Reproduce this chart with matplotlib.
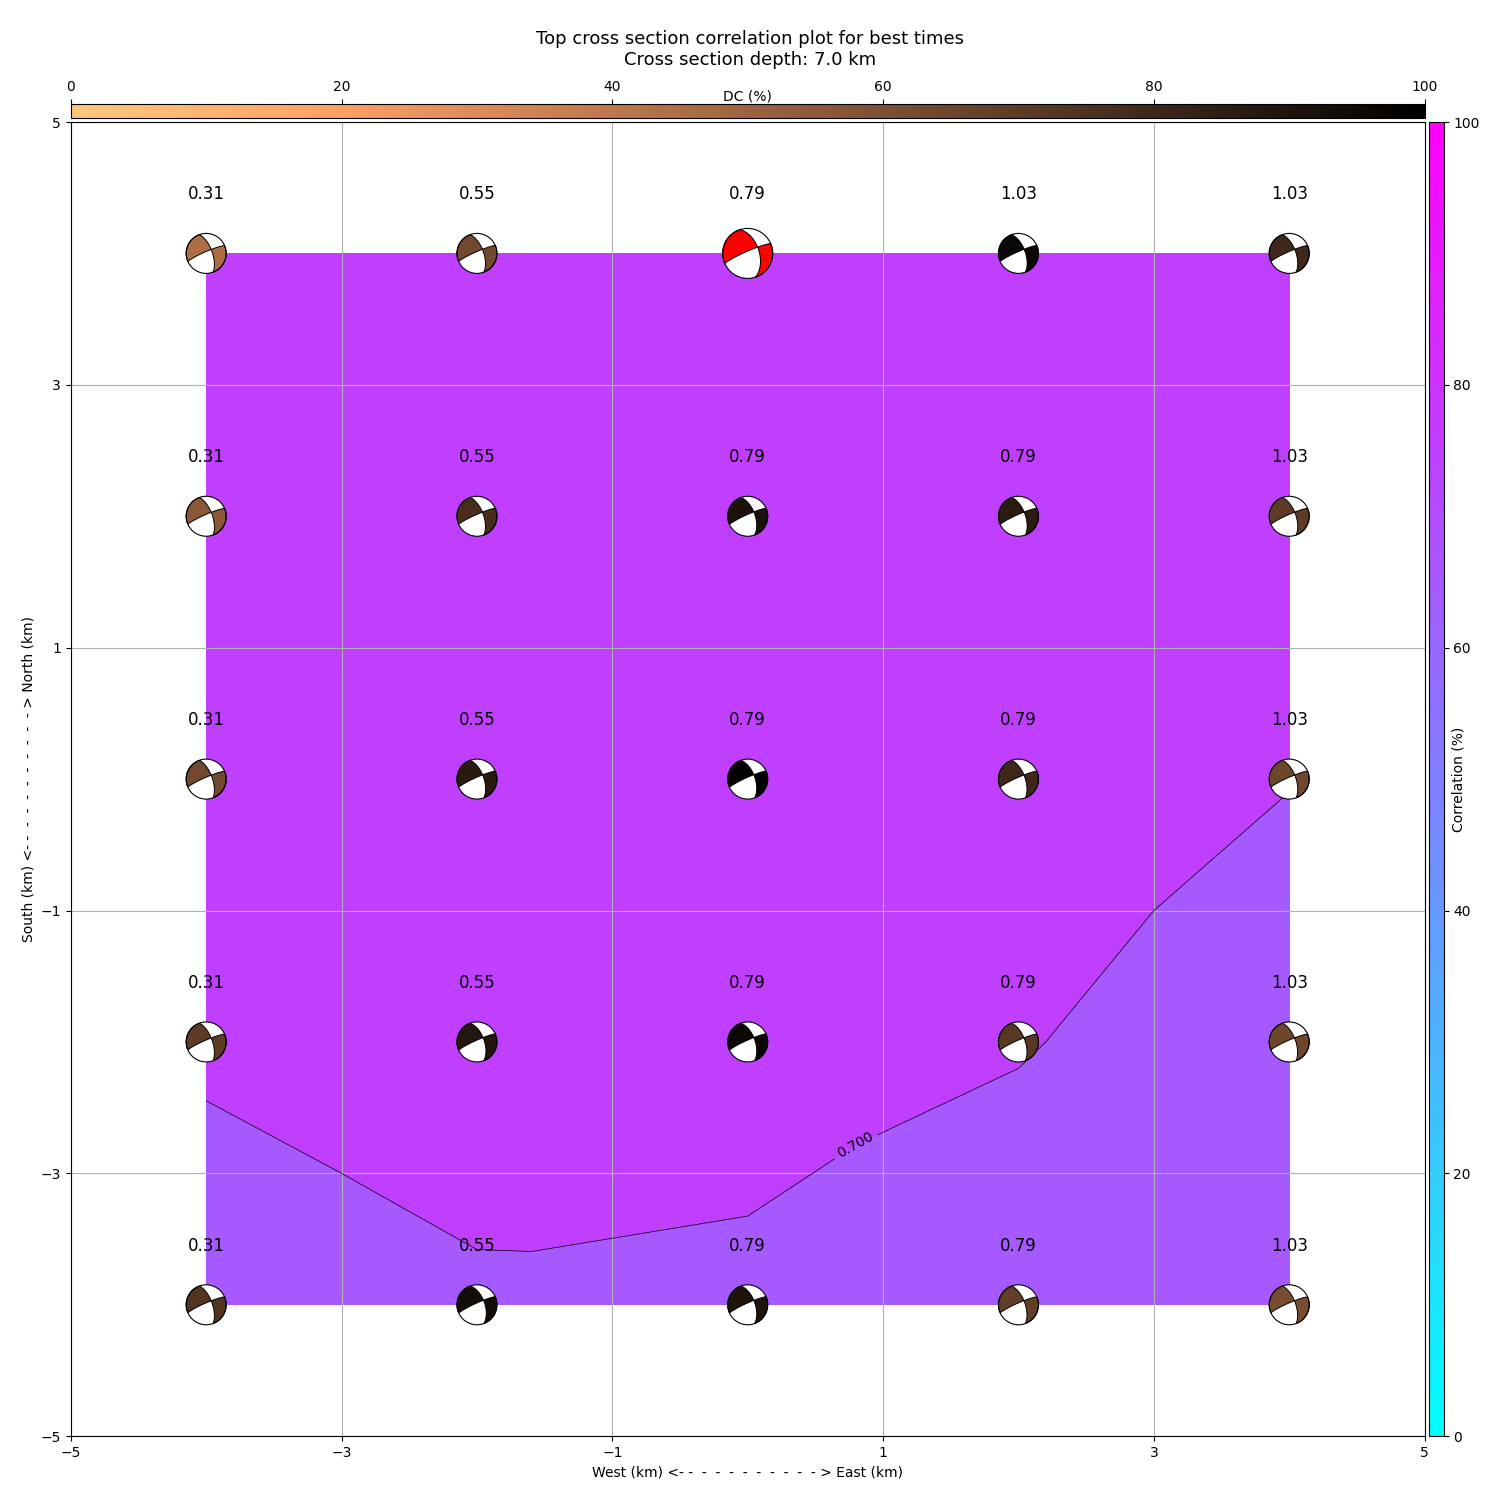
import numpy as np
import matplotlib
matplotlib.use("Agg")
import matplotlib.pyplot as plt
from matplotlib.cm import ScalarMappable
from matplotlib.colors import Normalize
from matplotlib.patches import Ellipse, Polygon
from matplotlib.tri import Triangulation

# ---- data (rows run from north y=4 to south y=-4) ----
x_nodes = [-4, -2, 0, 2, 4]
y_nodes = [4, 2, 0, -2, -4]
correlation = [
    [0.76, 0.76, 0.77, 0.76, 0.75],
    [0.76, 0.77, 0.77, 0.76, 0.75],
    [0.75, 0.77, 0.78, 0.75, 0.7026],
    [0.709, 0.7312, 0.7326, 0.7056, 0.65],
    [0.6688, 0.6917, 0.6834, 0.65, 0.63],
]
dc_percent = [
    [45, 64, 85, 96, 80],
    [56, 77, 91, 86, 70],
    [64, 87, 99, 80, 65],
    [70, 89, 96, 72, 65],
    [74, 94, 90, 69, 62],
]
time_labels = [
    ["0.31", "0.55", "0.79", "1.03", "1.03"],
    ["0.31", "0.55", "0.79", "0.79", "1.03"],
    ["0.31", "0.55", "0.79", "0.79", "1.03"],
    ["0.31", "0.55", "0.79", "0.79", "1.03"],
    ["0.31", "0.55", "0.79", "0.79", "1.03"],
]
strike = [
    [340, 340, 342, 340, 340],
    [340, 340, 340, 340, 340],
    [340, 340, 340, 340, 340],
    [340, 340, 340, 340, 340],
    [340, 340, 340, 340, 340],
]
dip = [
    [65, 63, 52, 62, 63],
    [65, 63, 60, 62, 63],
    [65, 62, 60, 63, 63],
    [65, 60, 60, 63, 64],
    [65, 58, 60, 63, 64],
]
rake = [
    [-172, -172, -171, -172, -172],
    [-172, -172, -172, -172, -172],
    [-172, -172, -172, -172, -172],
    [-172, -172, -172, -172, -172],
    [-172, -172, -172, -172, -172],
]
best_node = (0, 2)  # row, column
tick_values = [-5, -3, -1, 1, 3, 5]
cbar_ticks = [0, 20, 40, 60, 80, 100]
contour_level = 0.7

# cell diagonals, row from south; True joins SW-NE, False joins NW-SE
cell_diagonal = [
    [True, True, False, True],
    [True, True, True, False],
    [True, True, True, True],
    [True, True, True, True],
]

FIG_PX = 1500
fig = plt.figure(figsize=(15, 15), dpi=100)
L, R, T, B = 70.8, 1424.6, 122, 1436.2
ax = fig.add_axes([L / FIG_PX, 1 - B / FIG_PX, (R - L) / FIG_PX, (B - T) / FIG_PX])
ax.set_xlim(-5, 5)
ax.set_ylim(-5, 5)
ax.set_xticks(tick_values)
ax.set_yticks(tick_values)
ax.grid(True)

# triangulated correlation field
nx, ny = len(x_nodes), len(y_nodes)
xg, yg = np.meshgrid(x_nodes, y_nodes[::-1])
zg = np.array(correlation)[::-1]
tris = []
for j in range(ny - 1):
    for i in range(nx - 1):
        sw = j * nx + i
        se = sw + 1
        nw = sw + nx
        ne = nw + 1
        if cell_diagonal[j][i]:
            tris += [[sw, se, ne], [sw, ne, nw]]
        else:
            tris += [[sw, se, nw], [se, ne, nw]]
tri = Triangulation(xg.ravel(), yg.ravel(), tris)
levels = [0.6, 0.7, 0.8]
ax.tricontourf(tri, zg.ravel(), levels=levels, cmap="cool", vmin=0, vmax=1)
cs = ax.tricontour(tri, zg.ravel(), levels=[contour_level], colors="black", linewidths=0.5)
ax.clabel(cs, fmt="%.3f", fontsize=10, manual=[(0.8, -2.8)])


def beachball(ax, cx, cy, rpx, s, d, r, color):
    """Lower-hemisphere focal mechanism drawn in pixel-true shape."""
    sx = 10.0 / (R - L) * rpx
    sy = 10.0 / (B - T) * rpx
    s, d, r = np.radians([s, d, r])
    n = np.array([-np.sin(d) * np.sin(s), np.sin(d) * np.cos(s), -np.cos(d)])
    u = np.array([np.cos(r) * np.cos(s) + np.cos(d) * np.sin(r) * np.sin(s),
                  np.cos(r) * np.sin(s) - np.cos(d) * np.sin(r) * np.cos(s),
                  -np.sin(d) * np.sin(r)])
    b = np.cross(n, u)
    if b[2] < 0:
        b = -b

    def project(v):
        h = np.hypot(v[0], v[1])
        rr = np.sqrt(max(1 - v[2], 0))
        if h < 1e-9:
            return cx, cy
        return cx + sx * v[1] / h * rr, cy + sy * v[0] / h * rr

    def ray(phi):
        w = np.cos(phi) * u + np.sin(phi) * n
        th0 = np.arctan2(b[2], -w[2])
        return w, th0

    def curve(phi, rev=False):
        w, th0 = ray(phi)
        ths = np.linspace(0, th0, 40)
        pts = [project(np.cos(t) * b + np.sin(t) * w) for t in ths]
        return pts[::-1] if rev else pts

    ax.add_patch(Ellipse((cx, cy), 2 * sx, 2 * sy, fc="white", ec="none", zorder=5))
    for p0 in (0.0, np.pi):
        p1 = p0 + np.pi / 2
        pts = curve(p0)
        for ph in np.linspace(p0, p1, 60)[1:-1]:
            w, th0 = ray(ph)
            pts.append(project(np.cos(th0) * b + np.sin(th0) * w))
        pts += curve(p1, rev=True)
        ax.add_patch(Polygon(pts, closed=True, fc=color, ec="black", lw=0.7, zorder=6))
    ax.add_patch(Ellipse((cx, cy), 2 * sx, 2 * sy, fc="none", ec="black", lw=0.8, zorder=7))


cmap_dc = plt.get_cmap("copper_r")
for row, yv in enumerate(y_nodes):
    for col, xv in enumerate(x_nodes):
        best = (row, col) == best_node
        color = "red" if best else cmap_dc(dc_percent[row][col] / 100)
        beachball(ax, xv, yv, 25 if best else 20, strike[row][col], dip[row][col], rake[row][col], color)
        ax.text(xv, yv + 0.45, time_labels[row][col], ha="center", va="center", fontsize=12, zorder=8)

ax.set_xlabel("West (km) <- -  -  -  -  -  -  -  -  -  - > East (km)")
ax.set_ylabel("South (km) <- -  -  -  -  -  -  -  -  -  - > North (km)")
ax.xaxis.labelpad = 4
ax.yaxis.labelpad = 4
ax.set_title("Top cross section correlation plot for best times\nCross section depth: 7.0 km",
             fontsize=13, x=0.5018, y=1.0, pad=41)

# correlation colourbar (right)
cax = fig.add_axes([1429 / FIG_PX, 1 - B / FIG_PX, 14.5 / FIG_PX, (B - T) / FIG_PX])
cb = fig.colorbar(ScalarMappable(Normalize(0, 100), cmap="cool"), cax=cax)
cb.set_ticks(cbar_ticks)
cb.set_label("Correlation (%)", ha="center", va="center")
cax.yaxis.set_label_coords(2.03, 0.5)

# DC colourbar (top)
tax = fig.add_axes([L / FIG_PX, 1 - 118 / FIG_PX, (R - L) / FIG_PX, 14 / FIG_PX])
tb = fig.colorbar(ScalarMappable(Normalize(0, 100), cmap="copper_r"), cax=tax, orientation="horizontal")
tb.set_ticks(cbar_ticks)
tax.xaxis.set_ticks_position("top")
tax.xaxis.set_label_position("top")
tb.set_label("DC (%)", va="center")
tax.xaxis.set_label_coords(0.5, 1.5)

fig.savefig("out.png", dpi=100)
